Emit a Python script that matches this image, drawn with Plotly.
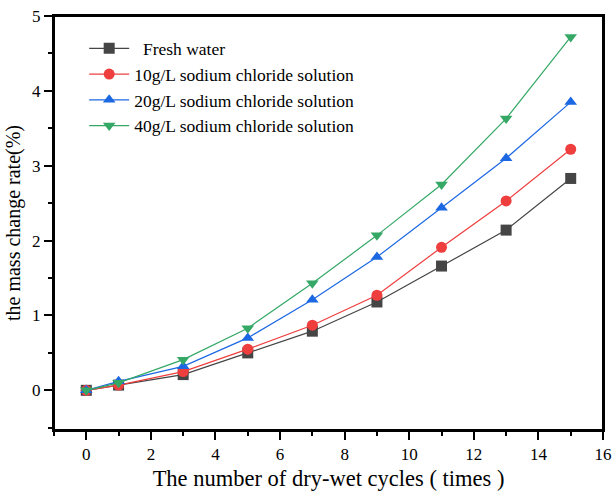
import plotly.graph_objects as go

cycles = [0, 1, 3, 5, 7, 9, 11, 13, 15]
fresh = [0.0, 0.07, 0.21, 0.50, 0.79, 1.18, 1.66, 2.14, 2.83]
nacl10 = [0.0, 0.07, 0.25, 0.55, 0.87, 1.27, 1.91, 2.53, 3.22]
nacl20 = [0.0, 0.12, 0.32, 0.70, 1.21, 1.78, 2.44, 3.10, 3.85]
nacl40 = [0.0, 0.10, 0.41, 0.83, 1.43, 2.07, 2.75, 3.63, 4.72]

names = ["\u00a0\u00a0Fresh water", "10g/L sodium chloride solution",
         "20g/L sodium chloride solution", "40g/L sodium chloride solution"]
series = [fresh, nacl10, nacl20, nacl40]
colors = ["#454545", "#ef3e3e", "#1c68e3", "#35a866"]
symbols = ["square", "circle", "triangle-up", "triangle-down"]

fig = go.Figure()
for n, s, c, sym in zip(names, series, colors, symbols):
    fig.add_trace(go.Scatter(
        x=cycles, y=s, name=n, mode="lines+markers",
        line=dict(color=c, width=1.2),
        marker=dict(symbol=sym, size=11, color=c, line=dict(width=0)),
    ))

font = "Liberation Serif"
fig.update_layout(
    width=612, height=491,
    margin=dict(l=54, r=9, t=16, b=61),
    plot_bgcolor="white", paper_bgcolor="white",
    font=dict(family=font, color="black", size=17),
    showlegend=True,
    legend=dict(x=0.055, y=0.965, xanchor="left", yanchor="top",
                bgcolor="rgba(0,0,0,0)", font=dict(family=font, size=17.5, color="black"),
                tracegroupgap=0, itemwidth=40),
    shapes=[dict(type="rect", xref="paper", yref="paper", x0=0, x1=1, y0=0, y1=1,
                 line=dict(color="black", width=2), fillcolor="rgba(0,0,0,0)", layer="above")],
)
fig.update_xaxes(
    range=[-1, 16], tickvals=[0, 2, 4, 6, 8, 10, 12, 14, 16],
    ticks="outside", ticklen=8, tickwidth=1.5, tickcolor="black",
    minor=dict(dtick=1, tick0=0, ticks="outside", ticklen=4, tickwidth=1.5, tickcolor="black"),
    showline=True, linecolor="black", linewidth=2, mirror=True,
    showgrid=False, zeroline=False, automargin=False,
    title=dict(text="The number of dry-wet cycles ( times )", font=dict(size=22.5, family=font, color="black"), standoff=8),
    tickfont=dict(size=17, family=font, color="black"),
)
fig.update_yaxes(
    range=[-0.53, 5], tickvals=[0, 1, 2, 3, 4, 5],
    ticks="outside", ticklen=8, tickwidth=1.5, tickcolor="black",
    minor=dict(dtick=0.5, tick0=0, ticks="outside", ticklen=4, tickwidth=1.5, tickcolor="black"),
    showline=True, linecolor="black", linewidth=2, mirror=True,
    showgrid=False, zeroline=False, automargin=False,
    title=dict(text="the mass change rate(%)", font=dict(size=20, family=font, color="black"), standoff=6),
    tickfont=dict(size=17, family=font, color="black"),
)
fig.write_html("out.html")
